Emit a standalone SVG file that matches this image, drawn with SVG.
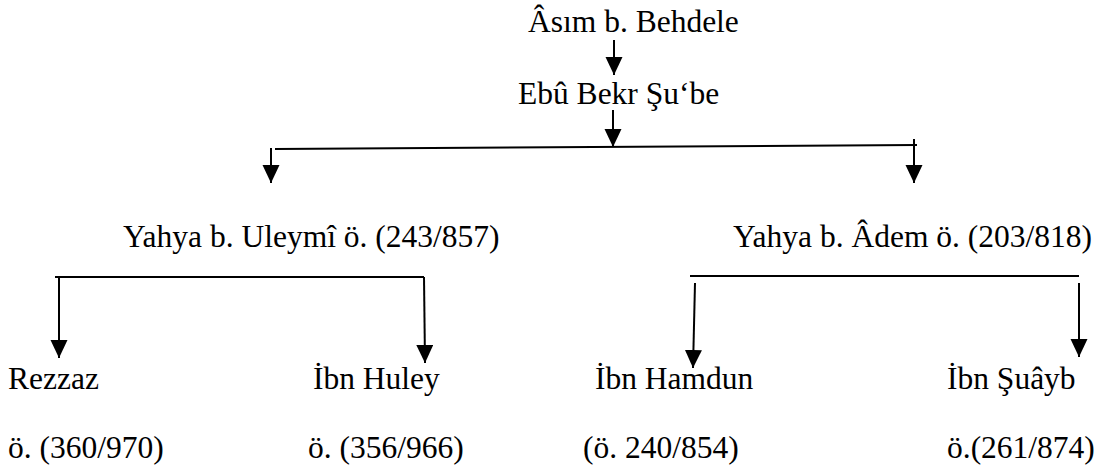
<svg xmlns="http://www.w3.org/2000/svg" width="1110" height="473" viewBox="0 0 1110 473">
<defs>
<marker id="ah" markerUnits="userSpaceOnUse" markerWidth="19" markerHeight="18" refX="18" refY="8.5" orient="auto">
<path d="M0,0 L18,8.5 L0,17 z" fill="#000"/>
</marker>
<style>
.c line{stroke:#000;stroke-width:2;fill:none}
.a{marker-end:url(#ah)}
</style>
</defs>
<rect width="1110" height="473" fill="#fff"/>
<g class="c" id="connectors">
<line class="a" x1="614" y1="40" x2="614" y2="75"/>
<line class="a" x1="613" y1="110" x2="613" y2="147"/>
<line x1="275" y1="149" x2="917" y2="145"/>
<line class="a" x1="271" y1="148" x2="271" y2="183"/>
<line class="a" x1="914" y1="139" x2="914" y2="183"/>
<line x1="55" y1="277" x2="424" y2="277"/>
<line class="a" x1="59" y1="277" x2="59" y2="358"/>
<line class="a" x1="424" y1="277" x2="425" y2="363"/>
<line x1="690" y1="276" x2="1079" y2="276"/>
<line class="a" x1="695" y1="283" x2="693" y2="368"/>
<line class="a" x1="1079" y1="283" x2="1079" y2="357"/>
</g>
<g font-family="'Liberation Serif', 'Times New Roman', serif" font-size="31.5" fill="#000">
<g id="asim"><text x="528" y="32">Âsım b. Behdele</text></g>
<g id="ebubekr"><text x="518" y="104">Ebû Bekr Şu‘be</text></g>
<g id="yahya-uleymi"><text x="123" y="247">Yahya b. Uleymî ö. (243/857)</text></g>
<g id="yahya-adem"><text x="733" y="247">Yahya b. Âdem ö. (203/818)</text></g>
<g id="rezzaz"><text x="8" y="389">Rezzaz</text><text x="8" y="458">ö. (360/970)</text></g>
<g id="ibn-huley"><text x="313" y="389">İbn Huley</text><text x="308" y="458">ö. (356/966)</text></g>
<g id="ibn-hamdun"><text x="595" y="389">İbn Hamdun</text><text x="583" y="458">(ö. 240/854)</text></g>
<g id="ibn-suayb"><text x="947" y="389">İbn Şuâyb</text><text x="947" y="458">ö.(261/874)</text></g>
</g>
</svg>
